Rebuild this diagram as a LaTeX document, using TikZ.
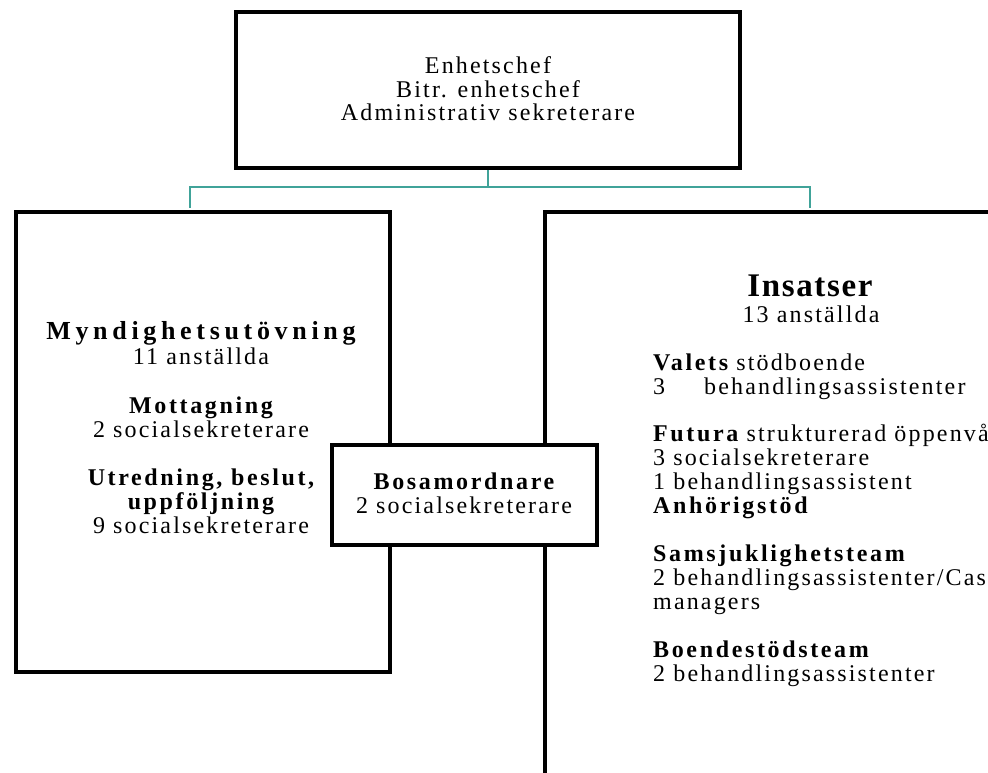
\documentclass[tikz,border=0pt]{standalone}
\usepackage{fontspec}
\setmainfont{Liberation Serif}
\newfontfamily\rs[LetterSpace=9]{Liberation Serif}
\newfontfamily\bs[LetterSpace=11]{Liberation Serif}
\newfontfamily\bsb[LetterSpace=18]{Liberation Serif}
\newfontfamily\bsi[LetterSpace=5]{Liberation Serif}
\definecolor{tealline}{RGB}{64,163,153}
\begin{document}
\begin{tikzpicture}[x=1pt,y=-1pt,
  box/.style={draw=black,line width=4pt,inner sep=0pt},
  conn/.style={draw=tealline,line width=1.5pt},
  rt/.style={inner sep=0pt,anchor=base,font=\rs\fontsize{24}{24}\selectfont},
  bt/.style={inner sep=0pt,anchor=base,font=\bs\bfseries\fontsize{24}{24}\selectfont},
  rl/.style={rt,anchor=base west},
  bl/.style={bt,anchor=base west},
  bigt/.style={inner sep=0pt,anchor=base,font=\bsb\bfseries\fontsize{26}{28}\selectfont},
  inst/.style={inner sep=0pt,anchor=base,font=\bsi\bfseries\fontsize{33}{34}\selectfont}]
\useasboundingbox (0,0) rectangle (988,772);
\clip (0,0) rectangle (988,772);
% boxes
\node[box,minimum width=504pt,minimum height=156pt] (top) at (488,90) {};
\node[box,anchor=north west,minimum width=374pt,minimum height=460pt] (leftbox) at (14,210) {};
\node[box,anchor=north west,minimum width=600pt,minimum height=700pt] (rightbox) at (543,210) {};
\node[box,fill=white,minimum width=265pt,minimum height=100pt] (bosa) at (464.5,495) {};
% connectors
\coordinate (jl) at (190,208);
\coordinate (jr) at (810,208);
\draw[conn] (top.south) -- ++(0,17) -| (jl);
\draw[conn] (top.south) -- ++(0,17) -| (jr);
% top texts
\node[rt] (e1) at (488,73) {Enhetschef};
\node[rt] (e2) at (488,97) {Bitr. enhetschef};
\node[rt] (e3) at (488,120) {Administrativ sekreterare};
% left texts
\node[bigt] (m1) at (201,339) {Myndighetsutövning};
\node[rt] (m2) at (201,364) {11 anställda};
\node[bt] (m3) at (201,413) {Mottagning};
\node[rt] (m4) at (201,437) {2 socialsekreterare};
\node[bt] (m5) at (201,485) {Utredning, beslut,};
\node[bt] (m6) at (201,509) {uppföljning};
\node[rt] (m7) at (201,533) {9 socialsekreterare};
% bosamordnare
\node[bt] (b1) at (464,489) {Bosamordnare};
\node[rt] (b2) at (464,513) {2 socialsekreterare};
% right texts
\node[inst] (i1) at (810,296) {Insatser};
\node[rt] (i2) at (811,322) {13 anställda};
\node[rl] (i3) at (653,370) {{\bs\bfseries Valets} stödboende};
\node[rl] (i4) at (653,394) {\makebox[51pt][l]{3}behandlingsassistenter};
\node[rl] (i5) at (653,441) {{\bs\bfseries Futura} strukturerad öppenvård};
\node[rl] (i6) at (653,465) {3 socialsekreterare};
\node[rl] (i7) at (653,489) {1 behandlingsassistent};
\node[bl] (i8) at (653,513) {Anhörigstöd};
\node[bl] (i9) at (653,561) {Samsjuklighetsteam};
\node[rl] (i10) at (653,585) {2 behandlingsassistenter/Case};
\node[rl] (i11) at (653,609) {managers};
\node[bl] (i12) at (653,657) {Boendestödsteam};
\node[rl] (i13) at (653,681) {2 behandlingsassistenter};
\end{tikzpicture}
\end{document}
